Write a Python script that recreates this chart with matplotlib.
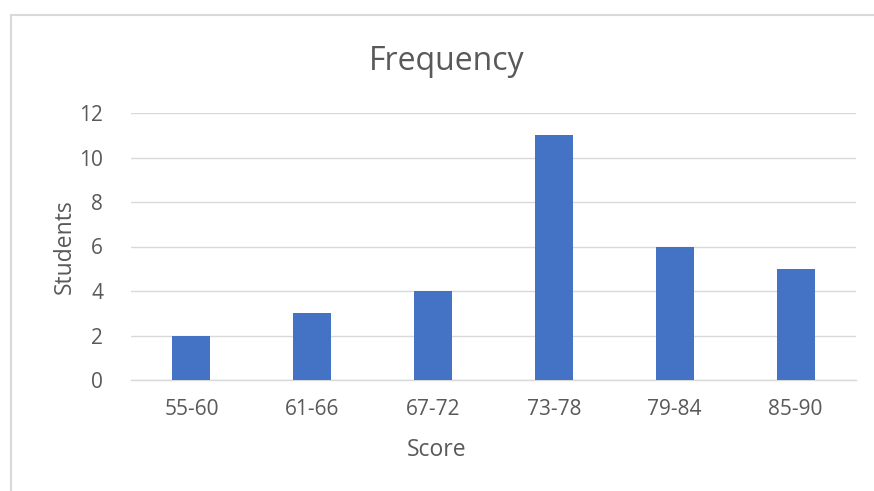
import matplotlib
matplotlib.use("Agg")
import matplotlib.pyplot as plt
from matplotlib.patches import Rectangle

categories = ["55-60", "61-66", "67-72", "73-78", "79-84", "85-90"]
values = [2, 3, 4, 11, 6, 5]
yticks = [0, 2, 4, 6, 8, 10, 12]

plt.rcParams['font.family'] = ['Open Sans', 'DejaVu Sans']
txt = "#595959"

fig = plt.figure(figsize=(8.74, 4.91), dpi=100)
fig.patches.append(Rectangle((10.5/874, -0.01), 1.0, 1 - 14.5/491 + 0.01,
                             transform=fig.transFigure, fill=False,
                             edgecolor="#d9d9d9", linewidth=1.5))
ax = fig.add_axes([131/874, 1 - 380/491, (856 - 131)/874, (380 - 113)/491])
x = range(len(categories))
ax.bar(x, values, width=0.315, color="#4472c4", zorder=3)
ax.set_xlim(-0.5, len(categories) - 0.5)
ax.set_ylim(0, 12)
ax.set_yticks(yticks)
ax.set_xticks(list(x))
ax.set_xticklabels(categories)
ax.grid(axis="y", color="#d9d9d9", linewidth=1, zorder=0)
for s in ["top", "right", "left"]:
    ax.spines[s].set_visible(False)
ax.spines["bottom"].set_color("#d9d9d9")
ax.spines["bottom"].set_linewidth(1)
ax.tick_params(axis="both", length=0, labelsize=15, colors=txt)
ax.tick_params(axis="y", pad=20)
ax.tick_params(axis="x", pad=14)
ax.set_ylabel("Students", fontsize=16.5, color=txt, labelpad=2)
fig.text(437/874, 1 - 450/491, "Score", ha="center", va="center",
         fontsize=16.5, color=txt)
fig.text(447/874, 1 - 62/491, "Frequency", ha="center", va="center",
         fontsize=23, color=txt)
fig.savefig("out.png", dpi=100)
